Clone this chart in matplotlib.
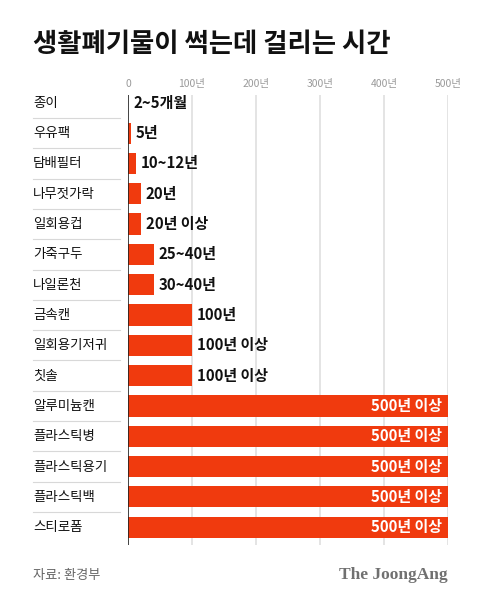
import matplotlib
matplotlib.use('Agg')
import matplotlib.pyplot as plt
import matplotlib.transforms as mtrans

plt.rcParams['font.family'] = ['Noto Sans CJK KR', 'DejaVu Sans']

items = ['종이', '우유팩', '담배필터', '나무젓가락', '일회용컵', '가죽구두', '나일론천',
	'금속캔', '일회용기저귀', '칫솔', '알루미늄캔', '플라스틱병', '플라스틱용기',
	'플라스틱백', '스티로폼']
years = [0.3, 5, 12, 20, 20, 40, 40, 100, 100, 100, 500, 500, 500, 500, 500]
labels = ['2~5개월', '5년', '10~12년', '20년', '20년 이상', '25~40년', '30~40년',
	'100년', '100년 이상', '100년 이상', '500년 이상', '500년 이상', '500년 이상',
	'500년 이상', '500년 이상']
ticks = [0, 100, 200, 300, 400, 500]
tick_labels = ['0', '100년', '200년', '300년', '400년', '500년']

bar_color = '#F03A0E'
W, H = 480., 602.

f = plt.figure(1, figsize=(4.8, 6.02), dpi=100)
f.clf()
ax1 = f.add_axes([128/W, 1-545/H, 320/W, 450/H])

ypos = list(range(len(items)))
ax1.barh(ypos, years, height=0.7, color=bar_color, zorder=2)

ax1.set_xlim(0, 500)
ax1.set_ylim(14.59, -0.26)
for s in ax1.spines.values():
	s.set_visible(False)
ax1.axvline(0, color='#222222', lw=1.2, zorder=3)
for t in ticks[1:]:
	ax1.axvline(t, color='#e2e2e2', lw=1.3, zorder=1)
ax1.set_yticks([])
ax1.xaxis.tick_top()
ax1.set_xticks(ticks)
ax1.set_xticklabels(tick_labels)
ax1.tick_params(axis='x', length=0, pad=4, labelsize=7.5, labelcolor='#9a9a9a')

# category names and separators on the left
tr = mtrans.blended_transform_factory(f.transFigure, ax1.transData)
for i, name in enumerate(items):
	ax1.text(33/W, i, name, transform=tr, ha='left', va='center',
		fontsize=9.7, color='#111111')
	if i < len(items) - 1:
		ax1.plot([33/W, 120/W], [i+0.5, i+0.5], transform=tr, color='#d8d8d8',
			lw=0.8, clip_on=False)

# value labels
for i, (v, lab) in enumerate(zip(years, labels)):
	if v >= 500:
		ax1.annotate(lab, (v, i), xytext=(-4, 0), textcoords='offset points',
			ha='right', va='center', fontsize=10.8, fontweight='bold', color='white',
			zorder=4)
	else:
		ax1.annotate(lab, (v, i), xytext=(3.5, 0), textcoords='offset points',
			ha='left', va='center', fontsize=10.8, fontweight='bold', color='#111111',
			zorder=4)

f.text(33/W, 1-45/H, '생활폐기물이 썩는데 걸리는 시간', ha='left', va='center',
	fontsize=19, fontweight='black', color='#111111')
f.text(33/W, 1-575/H, '자료: 환경부', ha='left', va='center', fontsize=9.5,
	color='#666666')
f.text(448/W, 1-575/H, 'The JoongAng', ha='right', va='center', fontsize=12.5,
	fontweight='bold', family='Liberation Serif', color='#707070')

f.savefig('out.png', dpi=100)
